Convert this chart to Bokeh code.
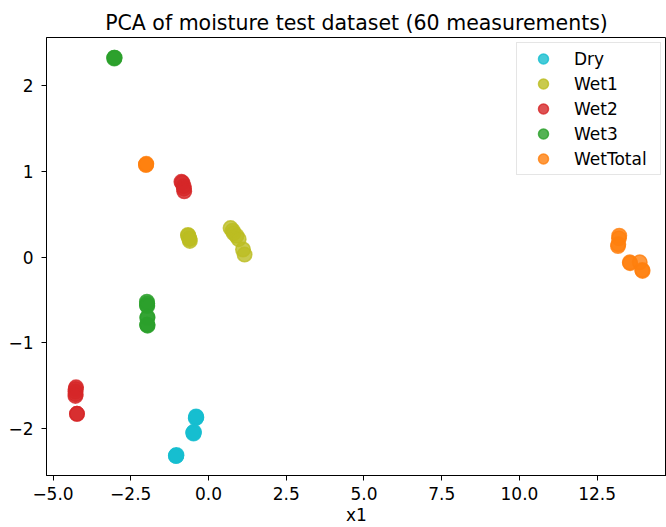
from bokeh.plotting import figure
from bokeh.models import FixedTicker, Range1d, Legend, LegendItem
from bokeh.embed import file_html
from bokeh.resources import INLINE

classes = ["Dry", "Wet1", "Wet2", "Wet3", "WetTotal"]
colors = ["#17becf", "#bcbd22", "#d62728", "#2ca02c", "#ff7f0e"]

dry_x = [-0.40, -0.40, -0.41, -0.39, -0.48, -0.47, -0.48, -0.49, -1.04, -1.03, -1.04, -1.05]
dry_y = [-1.87, -1.86, -1.88, -1.87, -2.05, -2.04, -2.06, -2.05, -2.32, -2.31, -2.32, -2.32]
wet1_x = [-0.66, -0.65, -0.62, -0.60, -0.61, 0.71, 0.78, 0.81, 0.90, 0.97, 1.11, 1.16]
wet1_y = [0.26, 0.25, 0.22, 0.19, 0.21, 0.34, 0.31, 0.28, 0.25, 0.21, 0.09, 0.03]
wet2_x = [-0.87, -0.84, -0.80, -0.79, -0.78, -4.26, -4.27, -4.28, -4.27, -4.28, -4.23, -4.23]
wet2_y = [0.88, 0.87, 0.83, 0.80, 0.77, -1.52, -1.54, -1.57, -1.60, -1.62, -1.83, -1.83]
wet3_x = [-3.03, -3.03, -3.02, -1.98, -1.97, -1.98, -1.97, -1.96, -1.97, -1.97, -1.96, -1.97]
wet3_y = [2.33, 2.32, 2.33, -0.52, -0.54, -0.56, -0.57, -0.70, -0.71, -0.79, -0.80, -0.79]
wett_x = [-2.01, -2.01, -2.00, 13.21, 13.20, 13.17, 13.18, 13.55, 13.56, 13.87, 13.96, 13.95]
wett_y = [1.08, 1.08, 1.09, 0.25, 0.22, 0.13, 0.15, -0.06, -0.07, -0.06, -0.16, -0.15]

xs = [dry_x, wet1_x, wet2_x, wet3_x, wett_x]
ys = [dry_y, wet1_y, wet2_y, wet3_y, wett_y]

x_ticks = [-5.0, -2.5, 0.0, 2.5, 5.0, 7.5, 10.0, 12.5]
y_ticks = [-2, -1, 0, 1, 2]

FONT = "DejaVu Sans"

p = figure(width=666, height=527, output_backend="svg", toolbar_location=None,
           x_range=Range1d(-5.21, 14.73), y_range=Range1d(-2.55, 2.566),
           min_border_left=46, min_border_right=0, min_border_top=37, min_border_bottom=50,
           title="PCA of moisture test dataset (60 measurements)")
p.title.text_font = FONT
p.title.text_font_size = "20.5px"
p.title.text_font_style = "normal"
p.title.align = "center"
p.title.text_color = "#000000"
p.title.standoff = 6

p.xgrid.visible = False
p.ygrid.visible = False
p.outline_line_color = "#000000"
p.outline_line_width = 1
p.outline_line_alpha = 1.0

for ax in (p.xaxis[0], p.yaxis[0]):
    ax.major_label_text_font = FONT
    ax.major_label_text_font_size = "17px"
    ax.major_label_text_color = "#000000"
    ax.axis_line_color = "#000000"
    ax.major_tick_line_color = "#000000"
    ax.major_tick_out = 5
    ax.major_tick_in = 0
    ax.minor_tick_out = 0
    ax.minor_tick_in = 0
    ax.axis_label_text_font = FONT
    ax.axis_label_text_font_size = "17px"
    ax.axis_label_text_font_style = "normal"
    ax.axis_label_text_color = "#000000"

p.xaxis.ticker = FixedTicker(ticks=x_ticks)
p.yaxis.ticker = FixedTicker(ticks=y_ticks)
p.xaxis.major_label_overrides = {t: ("%.1f" % t).replace("-", "\u2212") for t in x_ticks}
p.yaxis.major_label_overrides = {t: ("%d" % t).replace("-", "\u2212") for t in y_ticks}
p.xaxis.axis_label = "x1"
p.xaxis.major_label_standoff = 6
p.xaxis.axis_label_standoff = 2
p.yaxis.major_label_standoff = 8

items = []
for name, col, x, y in zip(classes, colors, xs, ys):
    r = p.scatter(x, y, size=14.5, fill_color=col, line_color=col,
                  fill_alpha=0.8, line_alpha=0.8, line_width=1.5)
    items.append(LegendItem(label=name, renderers=[r]))

legend = Legend(items=items, location="top_right")
legend.label_text_font = FONT
legend.label_text_font_size = "17px"
legend.label_text_color = "#000000"
legend.glyph_width = 46
legend.glyph_height = 25
legend.label_height = 20
legend.label_width = 83
legend.label_standoff = 8
legend.spacing = 0
legend.padding = 3
legend.margin = 5
legend.border_line_color = "#cccccc"
legend.border_line_width = 1
legend.background_fill_alpha = 0.8
p.add_layout(legend)

open("out.html", "w").write(file_html(p, INLINE))
